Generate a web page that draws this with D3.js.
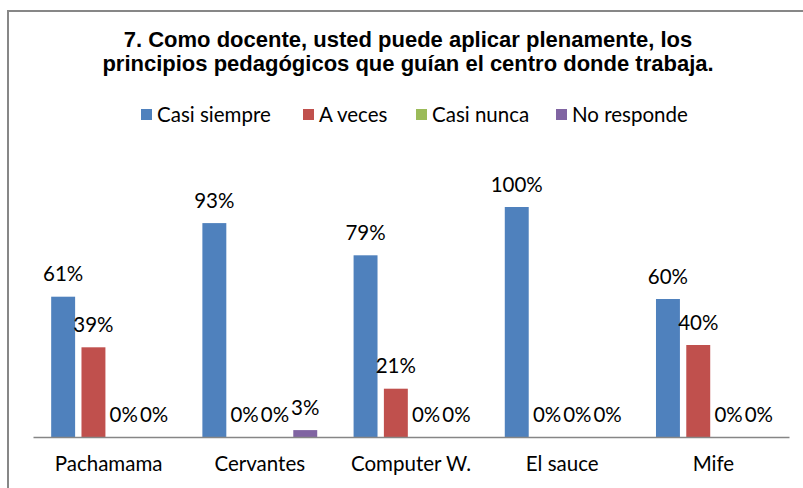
<!DOCTYPE html>
<html>
<head>
<meta charset="utf-8">
<script src="https://cdn.jsdelivr.net/npm/d3@7"></script>
<style>
  body { margin: 0; background: #fff; }
  svg { display: block; }
</style>
</head>
<body>
<svg id="drawing" width="803" height="488"></svg>
<script>
const categories = ["Pachamama", "Cervantes", "Computer W.", "El sauce", "Mife"];
const seriesNames = ["Casi siempre", "A veces", "Casi nunca", "No responde"];
const casiSiempre = [61, 93, 79, 100, 60];
const aVeces = [39, 0, 21, 0, 40];
const casiNunca = [0, 0, 0, 0, 0];
const noResponde = [0, 3, 0, 0, 0];
const colors = ["#4F81BD", "#C0504D", "#9BBB59", "#8064A2"];
const titleLines = [
  "7. Como docente, usted puede aplicar plenamente, los",
  "principios pedagógicos que guían el centro donde trabaja."
];

const values = [casiSiempre, aVeces, casiNunca, noResponde];
const labelFont = "Lato, 'Open Sans', sans-serif";
const labelSize = 20.5;

const svg = d3.select("svg#drawing");

// outer frame
svg.append("path")
  .attr("d", "M8,488 V11 H803")
  .attr("fill", "none")
  .attr("stroke", "#878787")
  .attr("stroke-width", 2);

// title
svg.append("g")
  .selectAll("text")
  .data(titleLines)
  .join("text")
  .attr("x", 408)
  .attr("y", (d, i) => 47 + i * 23.5)
  .attr("text-anchor", "middle")
  .attr("font-family", "'Liberation Sans', Arial, sans-serif")
  .attr("font-weight", "bold")
  .attr("font-size", 22)
  .attr("fill", "#000")
  .text(d => d);

// legend
const legendX = [141, 303, 416, 556];
const legend = svg.append("g")
  .selectAll("g")
  .data(seriesNames)
  .join("g")
  .attr("transform", (d, i) => `translate(${legendX[i]},109)`);
legend.append("rect")
  .attr("width", 11)
  .attr("height", 11)
  .attr("fill", (d, i) => colors[i]);
legend.append("text")
  .attr("x", 16)
  .attr("y", 12.5)
  .attr("font-family", labelFont)
  .attr("font-size", labelSize)
  .attr("fill", "#000")
  .text(d => d);

// scales
const x0 = d3.scaleBand()
  .domain(categories)
  .range([33, 789]);

const x1 = d3.scaleBand()
  .domain(seriesNames)
  .range([0, x0.bandwidth()])
  .paddingInner(0.21)
  .paddingOuter(0.6);

const y = d3.scaleLinear()
  .domain([0, 100])
  .range([437, 207]);

const barData = [];
categories.forEach((c, ci) => {
  seriesNames.forEach((s, si) => {
    barData.push({ c, s, si, v: values[si][ci] });
  });
});

// bars
svg.append("g")
  .selectAll("rect")
  .data(barData)
  .join("rect")
  .attr("x", d => x0(d.c) + x1(d.s))
  .attr("y", d => y(d.v))
  .attr("width", x1.bandwidth())
  .attr("height", d => y(0) - y(d.v))
  .attr("fill", d => colors[d.si]);

// axis line
const xAxis = d3.axisBottom(x0).tickSize(0).tickPadding(19.5);
const axisG = svg.append("g")
  .attr("transform", `translate(0,${y(0)})`)
  .call(xAxis);
axisG.select(".domain").attr("stroke", "#868686").attr("stroke-width", 1.3);
axisG.selectAll("text")
  .attr("font-family", labelFont)
  .attr("font-size", labelSize)
  .attr("fill", "#000");

// data labels
svg.append("g")
  .selectAll("text")
  .data(barData)
  .join("text")
  .attr("x", d => x0(d.c) + x1(d.s) + x1.bandwidth() / 2)
  .attr("y", d => y(d.v) - 15.5)
  .attr("text-anchor", "middle")
  .attr("font-family", labelFont)
  .attr("font-size", labelSize)
  .attr("fill", "#000")
  .text(d => d.v + "%");
</script>
</body>
</html>
